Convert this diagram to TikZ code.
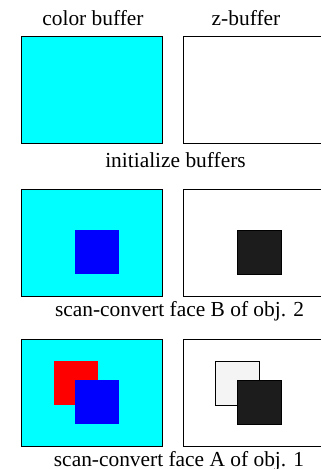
\documentclass[tikz,border=0pt]{standalone}
\usepackage{fontspec}
\setmainfont{Liberation Serif}
\definecolor{cyanfill}{HTML}{00FFFF}
\definecolor{bluefill}{HTML}{0000FF}
\definecolor{redfill}{HTML}{FF0000}
\definecolor{darkfill}{HTML}{1C1C1C}
\definecolor{lightfill}{HTML}{F4F4F4}
\begin{document}
\begin{tikzpicture}[x=1pt,y=-1pt,
  buf/.style={draw=black,line width=1pt,inner sep=0pt,outer sep=0pt,minimum width=141pt,minimum height=107pt,anchor=north west},
  sq/.style={inner sep=0pt,outer sep=0pt,minimum width=44pt,minimum height=44pt,anchor=north west},
  lbl/.style={font=\fontsize{21.4}{25}\selectfont,anchor=base,inner sep=0pt}]
\clip (0,0) rectangle (321,469);
\fill[white] (0,0) rectangle (321,469);
% headings
\node[lbl] (hc) at (93,25) {color buffer};
\node[lbl] (hz) at (246,25) {z-buffer};
% row 1
\node[buf,fill=cyanfill] (c1) at (21.3,36.3) {};
\node[buf,fill=white] (z1) at (183.3,36.3) {};
\node[lbl] (t1) at (175.5,167) {initialize buffers};
% row 2
\node[buf,fill=cyanfill] (c2) at (21.3,189.3) {};
\node[buf,fill=white] (z2) at (183.3,189.3) {};
\node[sq,fill=bluefill] (b2) at (75,230) {};
\node[sq,fill=darkfill,draw=black,line width=0.6pt] (d2) at (237,230) {};
\node[lbl] (t2) at (179.5,316) {scan-convert face B of obj. 2};
% row 3
\node[buf,fill=cyanfill] (c3) at (21.3,339.8) {};
\node[buf,fill=white] (z3) at (183.3,339.8) {};
\node[sq,fill=redfill] (r3) at (54,361) {};
\node[sq,fill=bluefill] (b3) at (75,380) {};
\node[sq,fill=lightfill,draw=black,line width=0.8pt] (l3) at (215.3,361) {};
\node[sq,fill=darkfill,draw=black,line width=0.6pt] (d3) at (237,380) {};
\node[lbl] (t3) at (179,466) {scan-convert face A of obj. 1};
\end{tikzpicture}
\end{document}
